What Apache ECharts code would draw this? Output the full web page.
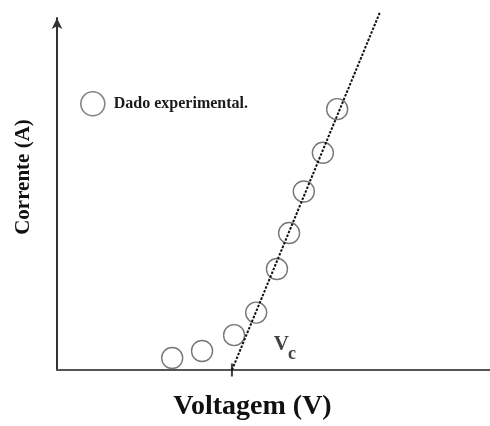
<!DOCTYPE html>
<html><head><meta charset="utf-8">
<script src="https://cdn.jsdelivr.net/npm/echarts@6/dist/echarts.min.js"></script>
<style>html,body{margin:0;padding:0;background:#fff}#c{width:490px;height:426px}</style>
</head><body><div id="c"></div>
<script>
// Experimental data (arbitrary units)
const voltage = [2.66, 3.35, 4.09, 4.60, 5.08, 5.36, 5.70, 6.14, 6.47];
const current = [0.34, 0.54, 0.99, 1.63, 2.87, 3.89, 5.07, 6.17, 7.41];
// Linear fit (dashed line) endpoints
const fitV = [4.04, 7.46];
const fitI = [0, 10.17];
const Vc = 4.04;
const seriesName = 'Dado experimental.';
const xLabel = 'Voltagem (V)';
const yLabel = 'Corrente (A)';

const serif = '"Liberation Serif","Times New Roman",serif';
const chart = echarts.init(document.getElementById('c'), null, {renderer: 'canvas'});
chart.setOption({
  animation: false,
  backgroundColor: '#fff',
  grid: {left: 57, right: 0, top: 18, bottom: 53},
  legend: {
    left: 75, top: 86,
    itemWidth: 24, itemHeight: 24,
    data: [seriesName],
    itemStyle: {borderWidth: 1.6, borderColor: '#666'},
    textStyle: {fontFamily: serif, fontWeight: 'bold', fontSize: 16, color: '#1a1a1a', padding: [0,0,0,4]}
  },
  xAxis: {
    type: 'value', min: 0, max: 10,
    name: xLabel, nameLocation: 'middle', nameGap: 23,
    nameTextStyle: {fontFamily: serif, fontWeight: 'bold', fontSize: 28, color: '#111', padding: [0, 42, 0, 0]},
    axisLine: {show: true, lineStyle: {color: '#555', width: 2.2}},
    axisTick: {show: false}, axisLabel: {show: false}, splitLine: {show: false}
  },
  yAxis: {
    type: 'value', min: 0, max: 10,
    name: yLabel, nameLocation: 'middle', nameGap: 23, nameRotate: 90,
    nameTextStyle: {fontFamily: serif, fontWeight: 'bold', fontSize: 21, color: '#111', padding: [0, 0, 0, 34]},
    axisLine: {show: true, symbol: ['none', 'arrow'], symbolSize: [8, 11], lineStyle: {color: '#333', width: 2}},
    axisTick: {show: false}, axisLabel: {show: false}, splitLine: {show: false}
  },
  series: [
    {
      name: 'fit', type: 'line', clip: false, symbol: 'none', silent: true,
      data: fitV.map((v, i) => [v, fitI[i]]),
      lineStyle: {color: '#111', width: 2, type: [2.5, 1.5]}
    },
    {
      name: seriesName, type: 'scatter', symbol: 'circle', symbolSize: 21,
      data: voltage.map((v, i) => [v, current[i]]),
      itemStyle: {color: 'rgba(0,0,0,0)', borderColor: '#555', borderWidth: 1.4}
    },
    {
      name: 'Vc', type: 'scatter', symbol: 'rect', symbolSize: [2, 13], silent: true,
      data: [[Vc, 0]],
      itemStyle: {color: '#111'},
      label: {
        show: true, position: 'inside', offset: [53, -25],
        formatter: '{v|V}{c|c}',
        rich: {
          v: {fontFamily: serif, fontWeight: 'bold', fontSize: 21, color: '#111'},
          c: {fontFamily: serif, fontWeight: 'bold', fontSize: 18, color: '#111', padding: [19, 0, 0, -1]}
        }
      }
    }
  ]
});
</script></body></html>
